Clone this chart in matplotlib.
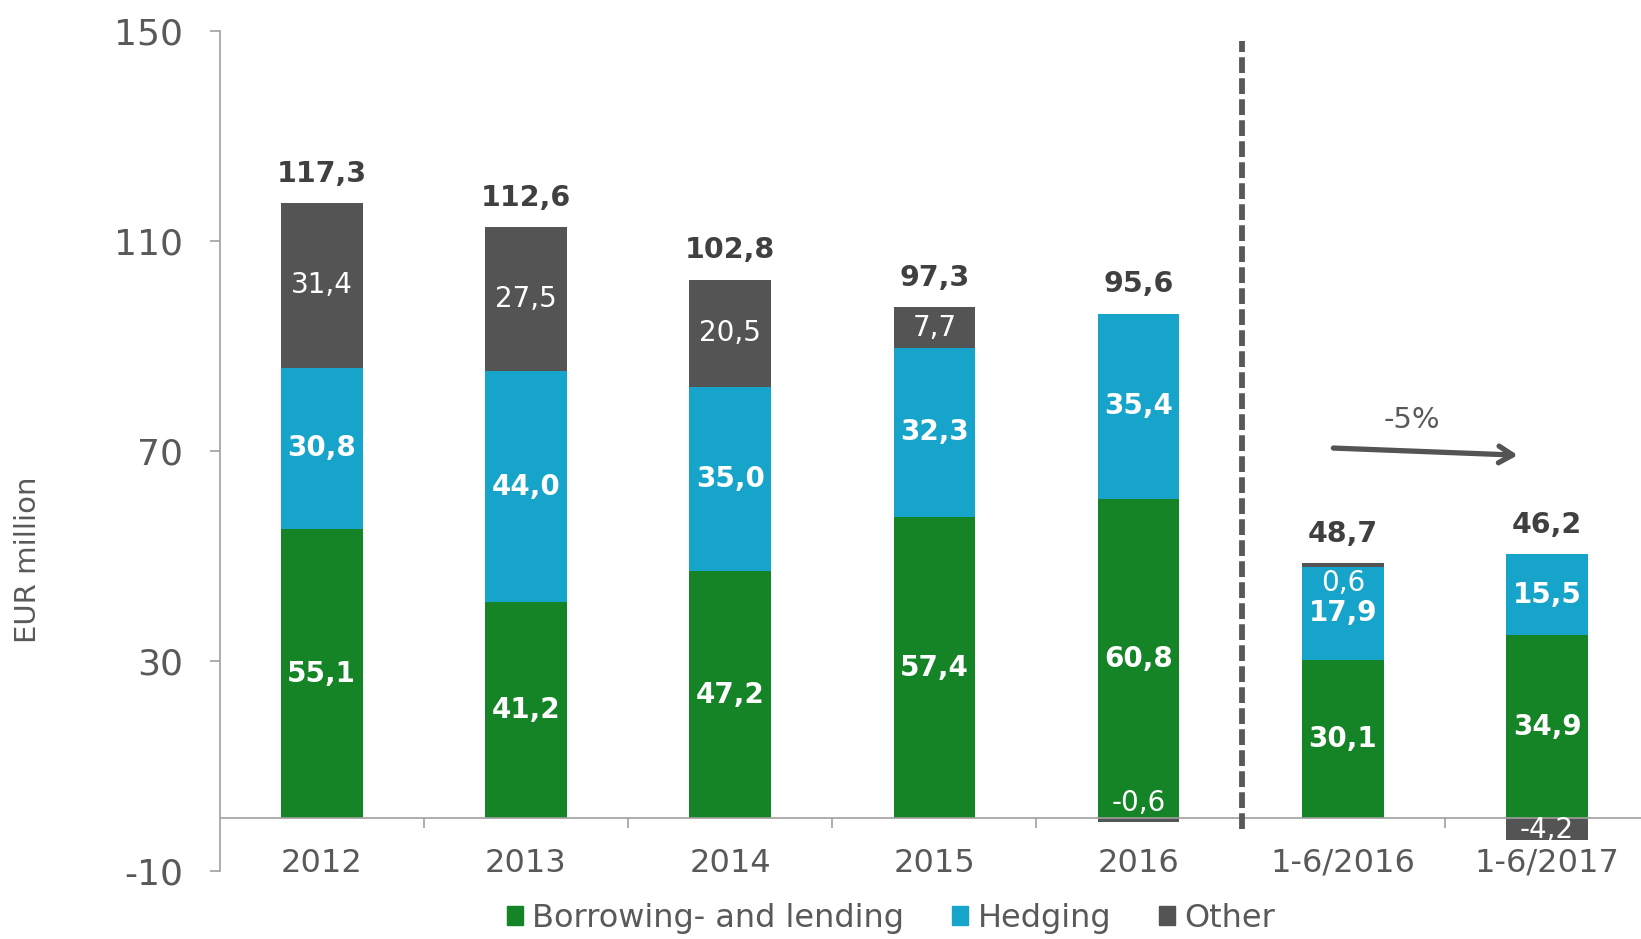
import matplotlib
matplotlib.use("Agg")
import matplotlib.pyplot as plt
from matplotlib.patches import Patch
import numpy as np

plt.rcParams["axes.unicode_minus"] = False

categories = ["2012", "2013", "2014", "2015", "2016", "1-6/2016", "1-6/2017"]
borrowing = [55.1, 41.2, 47.2, 57.4, 60.8, 30.1, 34.9]
hedging = [30.8, 44.0, 35.0, 32.3, 35.4, 17.9, 15.5]
other = [31.4, 27.5, 20.5, 7.7, -0.6, 0.6, -4.2]
totals = [117.3, 112.6, 102.8, 97.3, 95.6, 48.7, 46.2]
legend_names = ["Borrowing- and lending", "Hedging", "Other"]
change_label = "-5%"

GREEN, BLUE, DARK, GREY = "#148427", "#16A4CA", "#545454", "#595959"
AXIS = "#a0a0a0"

def fmt(v):
    return f"{v:.1f}".replace(".", ",")

fig = plt.figure(figsize=(16.41, 9.39), dpi=100)
ax = fig.add_axes([0.1338, 0.0726, 0.8662, 0.894])
x = np.arange(len(categories))
w = 0.4

b = np.array(borrowing); h = np.array(hedging); o = np.array(other)
ax.bar(x, b, w, color=GREEN, zorder=2)
ax.bar(x, h, w, bottom=b, color=BLUE, zorder=2)
o_bottom = np.where(o >= 0, b + h, 0)
obars = ax.bar(x, o, w, bottom=o_bottom, color=DARK, zorder=2)

for i in range(len(categories)):
    ax.text(x[i], b[i] / 2, fmt(b[i]), ha="center", va="center", color="white",
            fontsize=20, fontweight="bold")
    ax.text(x[i], b[i] + h[i] / 2, fmt(h[i]), ha="center", va="center", color="white",
            fontsize=20, fontweight="bold")
    top = b[i] + h[i] + max(o[i], 0)
    ax.text(x[i], top + 5.6, fmt(totals[i]), ha="center", va="center", color="#404040",
            fontsize=20.5, fontweight="bold")
    if o[i] > 5:
        ax.text(x[i], b[i] + h[i] + o[i] / 2, fmt(o[i]), ha="center", va="center",
                color="white", fontsize=20)

# small "other" values
ax.text(x[4], 3.0, fmt(o[4]), ha="center", va="center", color="white", fontsize=20)
ax.text(x[5], 44.9, fmt(o[5]), ha="center", va="center", color="white", fontsize=20)
t = ax.text(x[6], -2.3, fmt(o[6]), ha="center", va="center", color="white", fontsize=20,
            zorder=3)
t.set_clip_path(obars[6])

# separator between years and half-years
ax.plot([4.505, 4.505], [-2, 148.2], color=GREY, lw=4.2, ls=(0, (2.7, 0.9)), zorder=3,
        clip_on=False)

# trend arrow
ax.annotate("", xy=(5.87, 69.2), xytext=(4.94, 70.6),
            arrowprops=dict(arrowstyle="->,head_length=1.0,head_width=0.6",
                            color=DARK, lw=3.8))
ax.text(5.34, 76, change_label, ha="center", va="center", color=GREY, fontsize=21)

ax.set_xlim(-0.5, 6.46)
ax.set_ylim(-10, 150)
ax.set_yticks([-10, 30, 70, 110, 150])
ax.tick_params(axis="y", labelsize=26, labelcolor=GREY, color=AXIS,
               length=7.5, width=1.2, pad=19)
ax.set_xticks(x)
ax.set_xticklabels(categories)
ax.set_xticks(np.arange(0.5, 6.5, 1.0), minor=True)
ax.tick_params(axis="x", which="major", length=0, labelsize=23, labelcolor=GREY, pad=21)
ax.tick_params(axis="x", which="minor", length=7.5, color=AXIS, width=1.2)

for s in ("top", "right"):
    ax.spines[s].set_visible(False)
ax.spines["left"].set_color(AXIS)
ax.spines["left"].set_linewidth(1.2)
ax.spines["bottom"].set_position(("data", 0))
ax.spines["bottom"].set_color(AXIS)
ax.spines["bottom"].set_linewidth(1.2)

fig.text(0.0172, 0.404, "EUR million", rotation=90, ha="center", va="center",
         color=GREY, fontsize=21)

handles = [Patch(color=c) for c in (GREEN, BLUE, DARK)]
leg = fig.legend(handles, legend_names, loc="center", bbox_to_anchor=(0.543, 0.022),
                 ncol=3, frameon=False, handlelength=0.5, handleheight=0.55,
                 handletextpad=0.3, columnspacing=1.5, prop=dict(size=23))
for t in leg.get_texts():
    t.set_color(GREY)

fig.savefig("out.png", dpi=100)
